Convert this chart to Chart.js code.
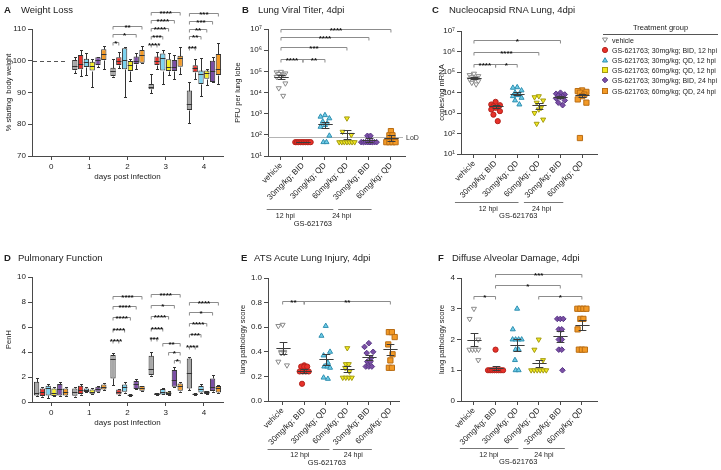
<!DOCTYPE html>
<html>
<head>
<meta charset="utf-8">
<title>GS-621763 efficacy panels</title>
<script src="https://cdn.jsdelivr.net/npm/chart.js@4.4.1/dist/chart.umd.min.js"></script>
<style>
  body { margin: 0; background: #fff; }
  #fig { position: relative; width: 721px; height: 470px; overflow: hidden;
         font-family: 'Liberation Sans', Arial, sans-serif; color: #222; }
  #fig canvas { position: absolute; }
  .ttl { position: absolute; font-size: 9.5px; line-height: 1; white-space: nowrap; }
  .ttl.l { font-weight: bold; }
  .lg { position: absolute; font-size: 7px; line-height: 1; white-space: nowrap; }
  .lg svg { position: absolute; left: -11px; top: -1px; }
</style>
</head>
<body>
<div id="fig">
  <canvas id="cA" width="232" height="186" style="left:0;top:0"></canvas>
  <canvas id="cB" width="200" height="232" style="left:232px;top:0"></canvas>
  <canvas id="cC" width="289" height="232" style="left:432px;top:0"></canvas>
  <canvas id="cD" width="232" height="200" style="left:0;top:232px"></canvas>
  <canvas id="cE" width="200" height="238" style="left:232px;top:232px"></canvas>
  <canvas id="cF" width="289" height="238" style="left:432px;top:232px"></canvas>

  <div class="ttl l" style="left:4px;top:5px">A</div><div class="ttl" style="left:21px;top:5px">Weight Loss</div>
  <div class="ttl l" style="left:242px;top:5px">B</div><div class="ttl" style="left:258px;top:5px">Lung Viral Titer, 4dpi</div>
  <div class="ttl l" style="left:432px;top:5px">C</div><div class="ttl" style="left:449px;top:5px">Nucleocapsid RNA Lung, 4dpi</div>
  <div class="ttl l" style="left:4px;top:253px">D</div><div class="ttl" style="left:18px;top:253px">Pulmonary Function</div>
  <div class="ttl l" style="left:241px;top:253px">E</div><div class="ttl" style="left:254px;top:253px">ATS Acute Lung Injury, 4dpi</div>
  <div class="ttl l" style="left:438px;top:253px">F</div><div class="ttl" style="left:452px;top:253px">Diffuse Alveolar Damage, 4dpi</div>
</div>

<script>
// ---------------- data ----------------
const days = ['0', '1', '2', '3', '4'];
const xCats = ['vehicle', '30mg/kg; BID', '30mg/kg; QD', '60mg/kg; QD', '30mg/kg; BID', '60mg/kg; QD'];
const groupNames = ['vehicle', 'GS-621763; 30mg/kg; BID, 12 hpi', 'GS-621763; 30mg/kg; QD, 12 hpi',
  'GS-621763; 60mg/kg; QD, 12 hpi', 'GS-621763; 30mg/kg; BID, 24 hpi', 'GS-621763; 60mg/kg; QD, 24 hpi'];

// box plots: [min, q1, median, q3, max] per day
const weightVehicle = [null, [96.2, 97.1, 98.5, 100.2, 101.1], [95.0, 95.2, 96.8, 97.8, 100.5], [89.7, 91.0, 91.8, 92.7, 95.8], [80.3, 84.5, 86.4, 90.6, 93.4]];
const weightBid12 = [null, [95.2, 97.3, 99.0, 101.8, 103.4], [97.6, 98.7, 100.0, 101.1, 102.9], [97.3, 98.7, 100.0, 101.3, 102.9], [94.3, 96.4, 97.6, 98.6, 100.5]];
const weightQd12 = [null, [95.6, 98.0, 99.7, 100.6, 102.5], [88.5, 97.3, 100.2, 103.9, 104.4], [92.6, 96.9, 100.8, 102.3, 103.4], [89.0, 92.7, 95.8, 96.9, 100.8]];
const weightQd60 = [null, [91.6, 96.9, 98.3, 99.7, 100.5], [93.6, 96.8, 98.7, 99.9, 100.5], [95.5, 96.8, 97.9, 100.5, 102.3], [92.4, 94.3, 96.0, 96.9, 97.4]];
const weightBid24 = [null, [97.9, 98.7, 100.2, 101.1, 101.3], [97.3, 99.0, 100.0, 101.3, 102.5], [94.2, 96.8, 97.9, 100.2, 101.8], [93.2, 93.3, 96.8, 100.0, 101.3]];
const weightQd24 = [null, [97.4, 100.2, 102.0, 103.6, 104.6], [99.2, 99.4, 101.8, 103.4, 104.6], [95.8, 98.1, 100.9, 101.6, 104.4], [92.6, 95.5, 97.4, 102.1, 105.7]];

const penhVehicle = [[0.48, 0.53, 0.75, 1.63, 1.89], [0.43, 0.51, 0.83, 1.09, 1.23], [1.36, 1.89, 3.41, 3.76, 3.89], [2.08, 2.16, 2.64, 3.71, 4.03], [0.96, 1.09, 2.35, 3.49, 3.57]];
const penhBid12 = [[0.37, 0.48, 0.77, 1.09, 1.23], [0.59, 0.64, 0.96, 1.31, 1.44], [0.56, 0.61, 0.83, 1.01, 1.07], [0.55, 0.56, 0.64, 0.72, 0.74], [0.58, 0.60, 0.64, 0.69, 0.70]];
const penhQd12 = [[0.35, 0.53, 1.09, 1.31, 1.44], [0.77, 0.80, 0.96, 1.09, 1.17], [0.75, 0.83, 1.17, 1.41, 1.63], [0.61, 0.61, 0.83, 1.04, 1.09], [0.75, 0.77, 1.01, 1.28, 1.41]];
const penhQd60 = [[0.48, 0.48, 0.69, 1.09, 1.17], [0.64, 0.67, 0.80, 1.01, 1.09], [0.52, 0.55, 0.57, 0.60, 0.62], [0.53, 0.56, 0.72, 0.83, 0.88], [0.61, 0.64, 0.77, 0.88, 0.91]];
const penhBid24 = [[0.48, 0.53, 1.01, 1.44, 1.63], [0.83, 0.83, 1.07, 1.23, 1.28], [1.01, 1.04, 1.44, 1.68, 1.84], [1.17, 1.23, 1.76, 2.56, 2.83], [0.83, 0.88, 1.17, 1.89, 2.16]];
const penhQd24 = [[0.48, 0.53, 0.83, 1.09, 1.17], [0.96, 1.01, 1.23, 1.41, 1.49], [0.91, 0.91, 1.12, 1.28, 1.31], [0.83, 0.91, 1.28, 1.49, 1.63], [0.72, 0.77, 1.09, 1.28, 1.36]];

// individual animals, 4 dpi
const titerVehicle = [95000, 90000, 80000, 75000, 70000, 60000, 55000, 27000, 16000, 7000];
const titerBid12 = [45, 45, 45, 45, 45, 45, 45, 45, 45, 45];
const titerQd12 = [850, 720, 600, 420, 350, 290, 240, 91, 45, 45];
const titerQd60 = [600, 140, 100, 45, 45, 45, 45, 45, 45, 45];
const titerBid24 = [90, 90, 45, 45, 45, 45, 45, 45, 45, 45];
const titerQd24 = [150, 95, 95, 45, 45, 45, 45];
const titerMean = [55000, 45, 310, 118, 56, 74];
const titerSem = [10000, 0, 90, 56, 12, 25];
const titerLoD = 80;

const rnaVehicle = [83000, 71000, 63000, 56000, 52000, 47000, 44000, 36000, 30000, 25000];
const rnaBid12 = [3500, 2600, 2400, 2150, 1900, 1780, 1480, 1230, 830, 400];
const rnaQd12 = [18000, 17000, 12600, 9800, 8000, 7400, 6600, 5500, 4100, 2600];
const rnaQd60 = [6600, 5900, 4100, 3200, 1800, 1500, 1000, 480, 300];
const rnaBid24 = [9800, 8700, 8000, 7100, 6600, 5900, 5100, 4100, 3200, 2400];
const rnaQd24 = [12600, 11700, 10700, 9800, 7900, 6600, 4600, 3200, 60];
const rnaMean = [53000, 2100, 8900, 2400, 6100, 7400];
const rnaSem = [6000, 300, 1600, 800, 750, 1400];

const atsVehicle = [0.62, 0.61, 0.40, 0.40, 0.39, 0.39, 0.32, 0.29];
const atsBid12 = [0.29, 0.28, 0.28, 0.28, 0.24, 0.24, 0.24, 0.24, 0.14];
const atsQd12 = [0.61, 0.53, 0.40, 0.37, 0.31, 0.28, 0.28, 0.27, 0.19, 0.18];
const atsQd60 = [0.43, 0.30, 0.30, 0.27, 0.24, 0.19, 0.19, 0.19, 0.19];
const atsBid24 = [0.47, 0.44, 0.40, 0.39, 0.35, 0.32, 0.32, 0.28, 0.28, 0.28];
const atsQd24 = [0.56, 0.56, 0.52, 0.46, 0.38, 0.33, 0.27, 0.27];
const atsMean = [0.43, 0.245, 0.34, 0.26, 0.355, 0.42];
const atsSem = [0.05, 0.016, 0.045, 0.028, 0.02, 0.045];

const dadVehicle = [3, 2.67, 2, 1.67, 1.67, 1.67, 1.67, 1.33];
const dadBid12 = [1.67, 1, 1, 1, 1, 1, 1, 1, 1];
const dadQd12 = [3, 2.33, 2, 2, 2, 2, 1.67, 1.67, 1.33, 1, 1];
const dadQd60 = [2, 1.67, 1.33, 1, 1, 1, 1, 1, 1];
const dadBid24 = [2.67, 2.67, 2.67, 2.33, 2.33, 2, 2, 1.67, 1.67, 1];
const dadQd24 = [3, 3, 3, 3, 2.67, 2.67, 2.33, 1.67, 1.67, 1.67];
const dadMean = [2.0, 1.07, 1.82, 1.22, 2.1, 2.47];
const dadSem = [0.22, 0.07, 0.2, 0.12, 0.17, 0.17];

// significance brackets: box panels [day, fromGroup, toGroup, level, label]
const sigWeight = [
  [2, 0, 1, 106.0, '*'], [2, 0, 4, 108.4, '*'], [2, 0, 5, 111.0, '**'],
  [3, 0, 1, 105.3, '****'], [3, 0, 2, 107.9, '***'], [3, 0, 3, 110.4, '****'], [3, 0, 4, 112.8, '****'], [3, 0, 5, 115.2, '****'],
  [4, 0, 1, 104.4, '***'], [4, 0, 2, 107.7, '**'], [4, 0, 3, 110.1, '**'], [4, 0, 4, 112.6, '***'], [4, 0, 5, 115.0, '***'],
];
const sigPenh = [
  [2, 0, 1, 4.96, '****'], [2, 0, 2, 5.81, '****'], [2, 0, 3, 6.8, '****'], [2, 0, 4, 7.68, '****'], [2, 0, 5, 8.5, '****'],
  [3, 0, 1, 5.09, '***'], [3, 0, 2, 5.95, '****'], [3, 0, 3, 6.88, '****'], [3, 0, 4, 7.76, '*'], [3, 0, 5, 8.61, '****'],
  [3, 2, 5, 4.69, '**'], [3, 3, 5, 4.03, '*'], [3, 4, 5, 3.36, '*'],
  [4, 0, 1, 4.48, '****'], [4, 0, 2, 5.41, '***'], [4, 0, 3, 6.35, '****'], [4, 0, 4, 7.23, '*'], [4, 0, 5, 8.03, '****'],
];
// scatter panels [fromGroup, toGroup, level, label]
const sigTiter = [[0, 1, 4.0e5, '****'], [1, 2, 4.0e5, '**'], [0, 3, 1.35e6, '***'], [0, 4, 4.3e6, '****'], [0, 5, 1.05e7, '****']];
const sigRna = [[0, 1, 2.5e5, '****'], [1, 2, 2.5e5, '*'], [0, 3, 1.0e6, '****'], [0, 4, 3.6e6, '*']];
const sigAts = [[0, 1, 0.81, '**'], [1, 5, 0.81, '**']];
const sigDad = [[0, 1, 3.43, '*'], [1, 5, 4.14, '***'], [1, 4, 3.78, '*'], [3, 5, 3.43, '*']];

// ---------------- styling ----------------
const FONT = "'Liberation Sans', Arial, Helvetica, sans-serif";
const AX = '#4a4a4a';
Chart.defaults.font.family = FONT;
Chart.defaults.font.size = 7.5;
Chart.defaults.color = '#222';

const boxFills = ['#a8a8a8', '#e8312a', '#7dd3f0', '#f4ec25', '#7b4fa5', '#f39a26'];
const markers = [
  { style: 'triangle', rot: 180, r: 2.9, fill: '#ffffff', edge: '#8a8a8a' },
  { style: 'circle', rot: 0, r: 2.6, fill: '#e8312a', edge: '#b3231c' },
  { style: 'triangle', rot: 0, r: 2.9, fill: '#6fcde9', edge: '#2f8fb0' },
  { style: 'triangle', rot: 180, r: 2.9, fill: '#f3ea1f', edge: '#a39b12' },
  { style: 'rectRot', rot: 0, r: 2.8, fill: '#7b4fa5', edge: '#573685' },
  { style: 'rect', rot: 0, r: 3.7, fill: '#f39a26', edge: '#b96d14' },
];
const SUP = { 1: '\u00b9', 2: '\u00b2', 3: '\u00b3', 4: '\u2074', 5: '\u2075', 6: '\u2076', 7: '\u2077' };

// ---------------- plugins ----------------
const boxPlugin = {
  id: 'boxes',
  afterDatasetsDraw(chart) {
    const { ctx } = chart, ys = chart.scales.y;
    const py = v => Math.round(ys.getPixelForValue(v)) + 0.5;
    ctx.save();
    ctx.strokeStyle = '#333';
    ctx.lineWidth = 1;
    chart.data.datasets.forEach((ds, i) => {
      chart.getDatasetMeta(i).data.forEach((bar, j) => {
        const s = ds.stats[j];
        if (!s) return;
        const x = Math.round(bar.x) + 0.5, hw = bar.width / 2;
        ctx.beginPath();
        ctx.moveTo(x, py(s[0])); ctx.lineTo(x, py(s[1]));
        ctx.moveTo(x, py(s[3])); ctx.lineTo(x, py(s[4]));
        ctx.moveTo(x - 1.5, py(s[0])); ctx.lineTo(x + 1.5, py(s[0]));
        ctx.moveTo(x - 1.5, py(s[4])); ctx.lineTo(x + 1.5, py(s[4]));
        ctx.moveTo(bar.x - hw, py(s[2])); ctx.lineTo(bar.x + hw, py(s[2]));
        ctx.stroke();
      });
    });
    ctx.restore();
  }
};

// dashed 100% reference at day 0 (weight panel)
const baselinePlugin = {
  id: 'baseline',
  afterDatasetsDraw(chart, args, o) {
    if (o.value == null) return;
    const { ctx, chartArea } = chart, xs = chart.scales.x;
    const y = Math.round(chart.scales.y.getPixelForValue(o.value)) + 0.5;
    const end = xs.getPixelForValue(0) + (xs.getPixelForValue(1) - xs.getPixelForValue(0)) * 0.42;
    ctx.save();
    ctx.strokeStyle = '#555';
    ctx.setLineDash([4, 3]);
    ctx.beginPath(); ctx.moveTo(chartArea.left + 1, y); ctx.lineTo(end, y); ctx.stroke();
    ctx.restore();
  }
};

const bracketPlugin = {
  id: 'brackets',
  afterDraw(chart, args, o) {
    const { ctx } = chart, ys = chart.scales.y;
    ctx.save();
    ctx.lineWidth = 1;
    ctx.textAlign = 'center';
    ctx.textBaseline = 'alphabetic';
    ctx.font = 'bold 8px ' + FONT;
    o.items.forEach(it => {
      let x1, x2, lv, lab;
      if (o.mode === 'box') {
        const [d, g1, g2, l, t] = it;
        x1 = chart.getDatasetMeta(g1).data[d].x;
        x2 = chart.getDatasetMeta(g2).data[d].x;
        lv = l; lab = t;
      } else {
        const [g1, g2, l, t] = it;
        x1 = chart.scales.x.getPixelForValue(g1);
        x2 = chart.scales.x.getPixelForValue(g2);
        lv = l; lab = t;
      }
      const y = Math.round(ys.getPixelForValue(lv)) + 0.5;
      ctx.strokeStyle = '#8c8c8c';
      ctx.beginPath();
      ctx.moveTo(x1, y + 3); ctx.lineTo(x1, y); ctx.lineTo(x2, y); ctx.lineTo(x2, y + 3);
      ctx.stroke();
      ctx.fillStyle = '#111';
      ctx.fillText(lab, (x1 + x2) / 2, y + 3);
    });
    ctx.restore();
  }
};

const statPlugin = {
  id: 'meanSem',
  afterDatasetsDraw(chart) {
    const { ctx } = chart, xs = chart.scales.x, ys = chart.scales.y;
    const unit = xs.getPixelForValue(1) - xs.getPixelForValue(0);
    ctx.save();
    ctx.strokeStyle = '#3c3c3c';
    ctx.lineWidth = 1;
    chart.data.datasets.forEach(ds => {
      const x = Math.round(xs.getPixelForValue(ds.group)) + 0.5;
      const m = Math.round(ys.getPixelForValue(ds.mean)) + 0.5;
      const lo = Math.round(ys.getPixelForValue(ds.mean - ds.sem)) + 0.5;
      const hi = Math.round(ys.getPixelForValue(ds.mean + ds.sem)) + 0.5;
      const w = unit * 0.33, c = unit * 0.18;
      ctx.beginPath();
      ctx.moveTo(x - w, m); ctx.lineTo(x + w, m);
      ctx.moveTo(x, lo); ctx.lineTo(x, hi);
      ctx.moveTo(x - c, lo); ctx.lineTo(x + c, lo);
      ctx.moveTo(x - c, hi); ctx.lineTo(x + c, hi);
      ctx.stroke();
    });
    ctx.restore();
  }
};

const hpiPlugin = {
  id: 'hpi',
  beforeDatasetsDraw(chart, args, o) {
    if (o.lod == null) return;
    const { ctx, chartArea } = chart;
    const y = Math.round(chart.scales.y.getPixelForValue(o.lod)) + 0.5;
    ctx.save();
    ctx.strokeStyle = '#b4b4b4';
    ctx.beginPath(); ctx.moveTo(chartArea.left, y); ctx.lineTo(chartArea.right - 2, y); ctx.stroke();
    ctx.fillStyle = '#333';
    ctx.font = '7px ' + FONT;
    ctx.textBaseline = 'middle';
    ctx.fillText('LoD', chartArea.right + 1, y + 1);
    ctx.restore();
  },
  afterDraw(chart, args, o) {
    const { ctx } = chart, xs = chart.scales.x;
    const px = v => xs.getPixelForValue(v);
    ctx.save();
    ctx.strokeStyle = '#777';
    ctx.lineWidth = 1;
    ctx.fillStyle = '#222';
    ctx.textAlign = 'center';
    ctx.textBaseline = 'middle';
    ctx.font = '7px ' + FONT;
    o.spans.forEach(sp => {
      ctx.beginPath(); ctx.moveTo(px(sp.from), o.lineY + 0.5); ctx.lineTo(px(sp.to), o.lineY + 0.5); ctx.stroke();
      ctx.fillText(sp.text, px(sp.at), o.textY);
    });
    ctx.font = '7.5px ' + FONT;
    ctx.fillText('GS-621763', px(o.gsAt), o.gsY);
    ctx.restore();
  }
};

// ---------------- builders ----------------
function yAxis(extra, width, title, titlePad) {
  return Object.assign({
    grid: { drawOnChartArea: false, tickLength: 4, color: AX },
    border: { color: AX },
    ticks: { padding: 2 },
    title: { display: true, text: title, padding: { top: titlePad, bottom: 0 } },
    afterFit: s => { s.width = width; },
  }, extra);
}

function boxChart(id, series, yOpt, sig, area, baseline) {
  new Chart(document.getElementById(id), {
    type: 'bar',
    data: {
      labels: days,
      datasets: series.map((s, g) => ({
        label: groupNames[g],
        data: s.map(b => b ? [b[1], b[3]] : null),
        stats: s,
        backgroundColor: boxFills[g],
        borderColor: '#333',
        borderWidth: 1,
        borderSkipped: false,
        categoryPercentage: 0.91,
        barPercentage: 0.92,
      })),
    },
    options: {
      responsive: false,
      animation: false,
      layout: { padding: { top: area.top, right: area.right, left: 0, bottom: 0 } },
      plugins: {
        legend: { display: false }, tooltip: { enabled: false },
        brackets: { mode: 'box', items: sig },
        baseline: { value: baseline },
      },
      scales: {
        x: {
          grid: { offset: false, drawOnChartArea: false, tickLength: 4, color: AX },
          border: { color: AX },
          ticks: { padding: 2, font: { size: 8 } },
          title: { display: true, text: 'days post infection', font: { size: 8 }, padding: { top: 0, bottom: 4 } },
          afterFit: s => { s.height = area.xh; },
        },
        y: yAxis(yOpt, area.yw, area.title, area.tpad),
      },
    },
    plugins: [boxPlugin, baselinePlugin, bracketPlugin],
  });
}

function spread(vals, g) {
  const counts = {}, seen = {};
  vals.forEach(v => { counts[v] = (counts[v] || 0) + 1; });
  const alt = [0, -0.2, 0.2, -0.1, 0.1];
  return vals.map((v, i) => {
    const n = counts[v];
    if (n > 1) {
      const k = seen[v] = (seen[v] === undefined ? 0 : seen[v] + 1);
      const step = Math.min(0.14, 0.7 / (n - 1));
      return { x: g + (k - (n - 1) / 2) * step, y: v };
    }
    return { x: g + alt[i % 5], y: v };
  });
}

function dotChart(id, series, mean, sem, yOpt, sig, area, hpi) {
  new Chart(document.getElementById(id), {
    type: 'scatter',
    data: {
      datasets: series.map((vals, g) => ({
        label: groupNames[g],
        data: spread(vals, g),
        group: g, mean: mean[g], sem: sem[g],
        pointStyle: markers[g].style,
        pointRotation: markers[g].rot,
        pointRadius: markers[g].r,
        pointBackgroundColor: markers[g].fill,
        pointBorderColor: markers[g].edge,
        pointBorderWidth: 1,
      })),
    },
    options: {
      responsive: false,
      animation: false,
      layout: { padding: { top: area.top, right: area.right, left: 0, bottom: 0 } },
      plugins: {
        legend: { display: false }, tooltip: { enabled: false },
        brackets: { mode: 'cat', items: sig },
        hpi: hpi,
      },
      scales: {
        x: {
          type: 'linear', min: area.xmin, max: area.xmax,
          afterBuildTicks: s => { s.ticks = xCats.map((c, i) => ({ value: i })); },
          grid: { drawOnChartArea: false, tickLength: 4, color: AX },
          border: { color: AX },
          ticks: { callback: v => xCats[v], minRotation: 45, maxRotation: 45, autoSkip: false, padding: 1, font: { size: 8 } },
          afterFit: s => { s.height = area.xh; },
        },
        y: yAxis(yOpt, area.yw, area.title, area.tpad),
      },
    },
    plugins: [statPlugin, bracketPlugin, hpiPlugin],
  });
}

const logY = {
  type: 'logarithmic', min: 10, max: 1e7,
  afterBuildTicks: s => { s.ticks = [1e1, 1e2, 1e3, 1e4, 1e5, 1e6, 1e7].map(v => ({ value: v })); },
  ticks: { padding: 2, font: { size: 8 }, callback: v => '10' + SUP[Math.round(Math.log10(v))] },
};

// ---------------- panels ----------------
boxChart('cA', [weightVehicle, weightBid12, weightQd12, weightQd60, weightBid24, weightQd24],
  { min: 70, max: 110, ticks: { stepSize: 10, padding: 2, font: { size: 8 } } }, sigWeight,
  { top: 29, right: 9, yw: 32, xh: 30, title: '% starting  body weight', tpad: 4 }, 100);

boxChart('cD', [penhVehicle, penhBid12, penhQd12, penhQd60, penhBid24, penhQd24],
  { min: 0, max: 10, ticks: { stepSize: 2, padding: 2, font: { size: 8 } } }, sigPenh,
  { top: 45, right: 9, yw: 32, xh: 30, title: 'PenH', tpad: 4 }, null);

dotChart('cB', [titerVehicle, titerBid12, titerQd12, titerQd60, titerBid24, titerQd24], titerMean, titerSem,
  logY, sigTiter,
  { top: 29, right: 27, yw: 36, xh: 76, xmin: -0.59, xmax: 5.64, title: 'PFU per lung lobe', tpad: 1 },
  { lod: titerLoD, lineY: 209, textY: 216, gsY: 224, gsAt: 1.45,
    spans: [{ from: -0.65, to: 2.38, text: '12 hpi', at: 0.2 }, { from: 2.6, to: 4.12, text: '24 hpi', at: 2.76 }] });

dotChart('cC', [rnaVehicle, rnaBid12, rnaQd12, rnaQd60, rnaBid24, rnaQd24], rnaMean, rnaSem,
  logY, sigRna,
  { top: 31, right: 124, yw: 29, xh: 78, xmin: -0.6, xmax: 5.69, title: 'copies/ng mRNA', tpad: 5 },
  { lod: null, lineY: 202, textY: 209, gsY: 216, gsAt: 2.05,
    spans: [{ from: -0.88, to: 2.06, text: '12 hpi', at: 0.66 }, { from: 2.31, to: 4.13, text: '24 hpi', at: 3.13 }] });

dotChart('cE', [atsVehicle, atsBid12, atsQd12, atsQd60, atsBid24, atsQd24], atsMean, atsSem,
  { min: 0, max: 1, ticks: { stepSize: 0.2, padding: 2, font: { size: 8 }, callback: v => v.toFixed(1) } }, sigAts,
  { top: 46, right: 33, yw: 36, xh: 69, xmin: -0.68, xmax: 5.4, title: 'lung pathology score', tpad: 6 },
  { lod: null, lineY: 217, textY: 223, gsY: 231, gsAt: 2.05,
    spans: [{ from: -0.7, to: 2.17, text: '12 hpi', at: 0.8 }, { from: 2.33, to: 4.14, text: '24 hpi', at: 3.28 }] });

dotChart('cF', [dadVehicle, dadBid12, dadQd12, dadQd60, dadBid24, dadQd24], dadMean, dadSem,
  { min: 0, max: 4, ticks: { stepSize: 1, padding: 2, font: { size: 8 } } }, sigDad,
  { top: 46, right: 124, yw: 29, xh: 69, xmin: -0.6, xmax: 5.7, title: 'lung pathology score', tpad: 5 },
  { lod: null, lineY: 216, textY: 223, gsY: 230, gsAt: 2.05,
    spans: [{ from: -0.65, to: 2.06, text: '12 hpi', at: 0.69 }, { from: 2.28, to: 4.21, text: '24 hpi', at: 3.24 }] });

// ---------------- legend ----------------
(function buildLegend() {
  const fig = document.getElementById('fig');
  const head = document.createElement('div');
  head.className = 'lg';
  head.style.cssText = 'left:603px;top:24px;width:115px;text-align:center;font-size:7.5px';
  head.textContent = 'Treatment group';
  fig.appendChild(head);
  const rule = document.createElement('div');
  rule.style.cssText = 'position:absolute;left:603px;top:34px;width:115px;border-top:1px solid #555';
  fig.appendChild(rule);
  const shapes = [
    '<polygon points="1.5,2 6.5,2 4,6.3" fill="#fff" stroke="#8a8a8a"/>',
    '<circle cx="4" cy="4" r="2.6" fill="#e8312a" stroke="#b3231c"/>',
    '<polygon points="1.5,6 6.5,6 4,1.7" fill="#6fcde9" stroke="#2f8fb0"/>',
    '<rect x="1.5" y="1.5" width="5" height="5" fill="#f3ea1f" stroke="#a39b12"/>',
    '<polygon points="4,1.2 6.8,4 4,6.8 1.2,4" fill="#7b4fa5" stroke="#573685"/>',
    '<rect x="1.5" y="1.5" width="5" height="5" fill="#f39a26" stroke="#b96d14"/>',
  ];
  groupNames.forEach((name, g) => {
    const row = document.createElement('div');
    row.className = 'lg';
    row.style.left = '612px';
    row.style.top = (36.5 + g * 10.2) + 'px';
    row.innerHTML = '<svg width="8" height="8" viewBox="0 0 8 8">' + shapes[g] + '</svg>';
    row.appendChild(document.createTextNode(name));
    fig.appendChild(row);
  });
})();
</script>
</body>
</html>
